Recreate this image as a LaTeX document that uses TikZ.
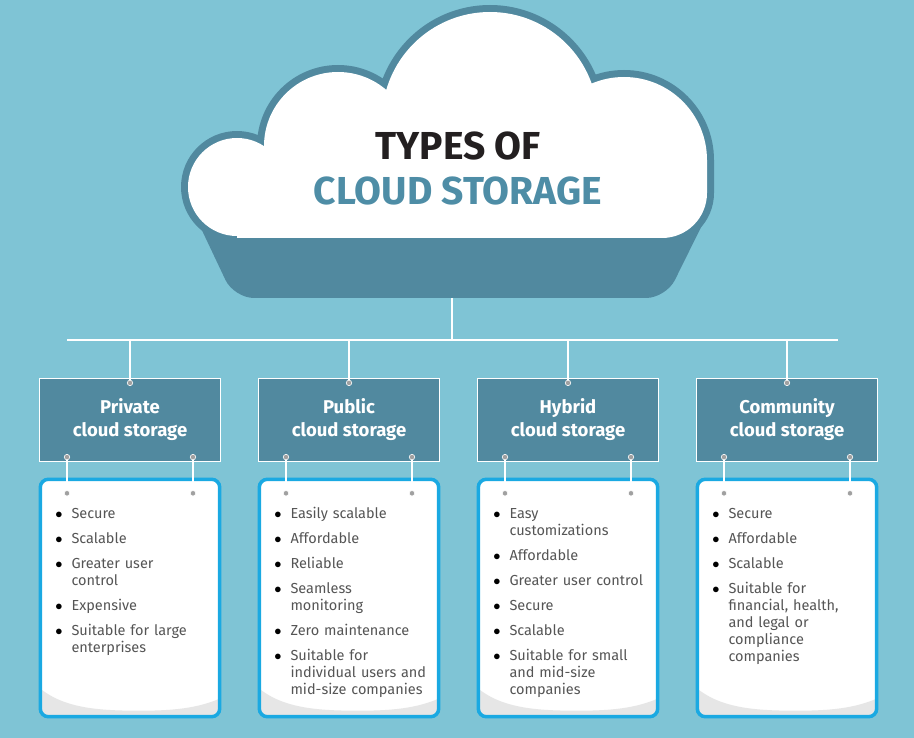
\documentclass[tikz,border=0pt]{standalone}
\usepackage{fontspec}
\setmainfont{Fira Sans}
\usepackage{enumitem}
\usetikzlibrary{positioning}

\definecolor{skyback}{HTML}{7FC4D5}
\definecolor{cloudteal}{HTML}{51899F}
\definecolor{titleteal}{HTML}{4E8DA6}
\definecolor{titleblack}{HTML}{231F20}
\definecolor{listcyan}{HTML}{1AA9E2}
\definecolor{itemgrey}{HTML}{555555}
\definecolor{wavegrey}{HTML}{E6E6E6}
\definecolor{pingrey}{HTML}{A0A0A0}

\setlist[itemize]{label={\color{black}$\bullet$}, leftmargin=18pt, labelsep=9pt,
  itemsep=8pt, parsep=0pt, topsep=0pt, partopsep=0pt}

\tikzset{
  typebox/.style={draw=white, line width=1.2pt, fill=cloudteal, minimum width=181pt,
    minimum height=83pt, text=white, align=center,
    font=\fontsize{18.5}{23}\selectfont\bfseries},
  listbox/.style={fill=white, rounded corners=8pt, minimum width=179pt, minimum height=237pt},
  listedge/.style={draw=listcyan, line width=3.5pt, rounded corners=8pt},
  itemtext/.style={text width=165pt, inner sep=0pt, anchor=north west, text=itemgrey,
    font=\fontsize{14.5}{17}\selectfont},
  pin/.style={circle, fill=pingrey, draw=white, line width=0.6pt, inner sep=0pt, minimum size=5.5pt},
  link/.style={white, line width=1.6pt}
}

\begin{document}
\begin{tikzpicture}[x=1pt, y=1pt]
  \fill[skyback] (0,0) rectangle (914,-738);
  \useasboundingbox (0,0) rectangle (914,-738);

  % cloud
  \fill[cloudteal, rounded corners=20pt] (190,-205) -- (234,-298) -- (666,-298) -- (712,-205) -- cycle;
  \fill[cloudteal] (490,-120) circle (115) (338,-146) circle (81) (237,-187) circle (56)
    (624,-160) circle (90);
  \fill[cloudteal] (230,-143) rectangle (647,-245);
  \fill[cloudteal] (553,-160) -- (714,-160) [rounded corners=52pt] -- (714,-245)
    [sharp corners] -- (553,-245) -- cycle;
  \begin{scope}
    \clip (0,0) rectangle (914,-238);
    \fill[white] (490,-120) circle (108) (338,-146) circle (74) (624,-160) circle (83)
      (237,-187) circle (49);
    \fill[white] (237,-150) rectangle (640,-238);
    \fill[white] (560,-160) -- (707,-160) [rounded corners=45pt] -- (707,-238)
      [sharp corners] -- (560,-238) -- cycle;
  \end{scope}
  \node[font=\fontsize{39}{45}\selectfont\bfseries, align=center] (title) at (458,-168)
    {\color{titleblack}TYPES OF\\\color{titleteal}CLOUD STORAGE};

  % type boxes
  \node[typebox] (h1) at (130,-420) {Private\\cloud storage};
  \node[typebox] (h2) at (349,-420) {Public\\cloud storage};
  \node[typebox] (h3) at (568,-420) {Hybrid\\cloud storage};
  \node[typebox] (h4) at (787,-420) {Community\\cloud storage};

  % list cards
  \foreach \c/\x in {1/130, 2/349, 3/568, 4/787} {
    \node[listbox] (l\c) at (\x,-598) {};
    \begin{scope}
      \clip[rounded corners=8pt] (l\c.south west) rectangle (l\c.north east);
      \fill[wavegrey] ([yshift=28pt]l\c.south west)
        .. controls ([shift={(25pt,8pt)}]l\c.south west) and ([shift={(60pt,6pt)}]l\c.south west)
        .. ([shift={(100pt,6pt)}]l\c.south west)
        .. controls ([shift={(140pt,6pt)}]l\c.south west) and ([shift={(160pt,10pt)}]l\c.south west)
        .. ([yshift=18pt]l\c.south east) -- (l\c.south east) -- (l\c.south west) -- cycle;
    \end{scope}
    \draw[listedge] (l\c.south west) rectangle (l\c.north east);
  }

  \node[itemtext] (i1) at ([shift={(13pt,-22pt)}]l1.north west) {\begin{itemize}
    \item Secure
    \item Scalable
    \item Greater user\\control
    \item Expensive
    \item Suitable for large\\enterprises
  \end{itemize}};
  \node[itemtext] (i2) at ([shift={(13pt,-22pt)}]l2.north west) {\begin{itemize}
    \item Easily scalable
    \item Affordable
    \item Reliable
    \item Seamless\\monitoring
    \item Zero maintenance
    \item Suitable for\\individual users and\\mid-size companies
  \end{itemize}};
  \node[itemtext] (i3) at ([shift={(13pt,-22pt)}]l3.north west) {\begin{itemize}
    \item Easy\\customizations
    \item Affordable
    \item Greater user control
    \item Secure
    \item Scalable
    \item Suitable for small\\and mid-size\\companies
  \end{itemize}};
  \node[itemtext] (i4) at ([shift={(13pt,-22pt)}]l4.north west) {\begin{itemize}
    \item Secure
    \item Affordable
    \item Scalable
    \item Suitable for\\financial, health,\\and legal or\\compliance\\companies
  \end{itemize}};

  % pins
  \foreach \c in {1,2,3,4} {
    \node[pin] (t\c) at ([yshift=-5pt]h\c.north) {};
    \node[pin] (a\c) at ([shift={(-63pt,5pt)}]h\c.south) {};
    \node[pin] (b\c) at ([shift={(63pt,5pt)}]h\c.south) {};
    \node[pin] (c\c) at ([shift={(-63pt,-14pt)}]l\c.north) {};
    \node[pin] (d\c) at ([shift={(63pt,-14pt)}]l\c.north) {};
  }

  % connectors
  \coordinate (stem) at (452,-298);
  \coordinate (bus) at (452,-340);
  \coordinate (busw) at (67,-340);
  \coordinate (buse) at (838,-340);
  \draw[link] (stem) -- (bus);
  \draw[link] (busw) -- (buse);
  \foreach \c in {1,2,3,4} {
    \draw[link] (t\c |- bus) -- (t\c);
    \draw[link] (a\c) -- (c\c);
    \draw[link] (b\c) -- (d\c);
  }
\end{tikzpicture}
\end{document}
